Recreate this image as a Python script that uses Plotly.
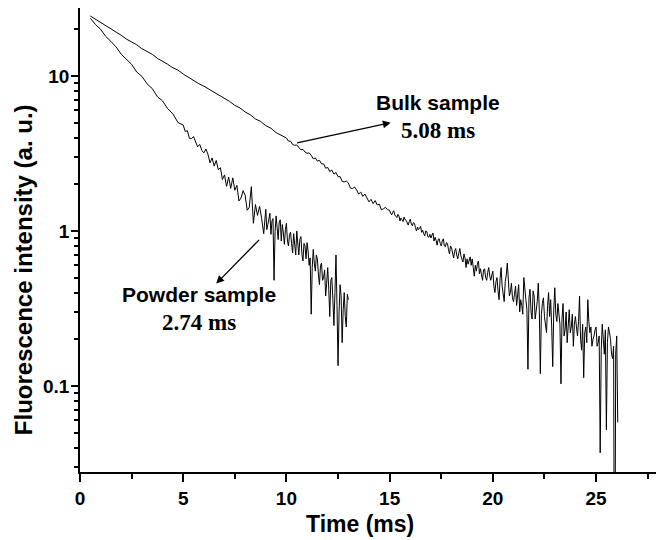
import numpy as np
import plotly.graph_objects as go

# ---- data (intensity, a.u.) ----
# Bulk sample: 0.5..9.75 ms every 0.25 ms; 10.0..14.9 ms every 0.1 ms; 15.0..26.05 ms every 0.05 ms
bulk_early = [24.4, 23.2, 22.2, 21.2, 20.0, 19.2, 18.3, 17.3, 16.6, 15.9,
              15.0, 14.4, 13.8, 13.0, 12.5, 11.9, 11.3, 10.9, 10.3, 9.80,
              9.42, 8.93, 8.60, 8.22, 7.76, 7.50, 7.10, 6.85, 6.46, 6.22,
              5.86, 5.62, 5.28, 5.09, 4.78, 4.60, 4.31, 4.14]
bulk_mid = [3.98, 3.80, 3.80, 3.61, 3.57, 3.59, 3.47, 3.34, 3.36, 3.23,
            3.17, 3.19, 3.08, 2.92, 2.96, 2.82, 2.86, 2.71, 2.71, 2.54,
            2.57, 2.42, 2.47, 2.33, 2.38, 2.24, 2.24, 2.09, 2.07, 2.10,
            2.04, 1.89, 1.88, 1.92, 1.84, 1.73, 1.78, 1.67, 1.73, 1.62,
            1.54, 1.60, 1.50, 1.57, 1.47, 1.49, 1.37, 1.39, 1.42, 1.37]
bulk_tail = [1.36, 1.30, 1.27, 1.32, 1.35, 1.27, 1.24, 1.22, 1.28, 1.25,
             1.16, 1.21, 1.18, 1.15, 1.23, 1.18, 1.17, 1.12, 1.09, 1.15,
             1.19, 1.11, 1.08, 1.13, 1.12, 1.05, 1.00, 1.06, 1.02, 1.04,
             1.07, 0.98, 1.01, 0.96, 0.93, 1.00, 0.99, 0.92, 0.91, 0.95,
             0.90, 0.94, 0.97, 0.86, 0.91, 0.87, 0.81, 0.88, 0.89, 0.83,
             0.80, 0.86, 0.89, 0.80, 0.79, 0.84, 0.83, 0.76, 0.71, 0.80,
             0.78, 0.72, 0.67, 0.74, 0.77, 0.70, 0.66, 0.72, 0.77, 0.69,
             0.66, 0.63, 0.71, 0.67, 0.58, 0.66, 0.61, 0.65, 0.68, 0.60,
             0.66, 0.58, 0.51, 0.60, 0.55, 0.61, 0.64, 0.53, 0.57, 0.52,
             0.48, 0.56, 0.57, 0.50, 0.48, 0.54, 0.58, 0.51, 0.48, 0.52,
             0.55, 0.44, 0.40, 0.47, 0.50, 0.41, 0.36, 0.49, 0.58, 0.44,
             0.40, 0.35, 0.47, 0.52, 0.62, 0.43, 0.38, 0.40, 0.46, 0.37,
             0.35, 0.39, 0.44, 0.33, 0.41, 0.45, 0.30, 0.36, 0.33, 0.29,
             0.50, 0.40, 0.36, 0.31, 0.128, 0.37, 0.42, 0.30, 0.27, 0.41,
             0.38, 0.27, 0.30, 0.35, 0.46, 0.31, 0.12, 0.29, 0.34, 0.37,
             0.28, 0.25, 0.22, 0.33, 0.40, 0.28, 0.36, 0.24, 0.133, 0.31,
             0.43, 0.29, 0.26, 0.34, 0.30, 0.25, 0.103, 0.27, 0.34, 0.21,
             0.23, 0.30, 0.19, 0.26, 0.31, 0.22, 0.24, 0.29, 0.18, 0.25,
             0.28, 0.24, 0.21, 0.26, 0.38, 0.20, 0.17, 0.25, 0.113, 0.22,
             0.24, 0.19, 0.36, 0.26, 0.22, 0.24, 0.18, 0.20, 0.21, 0.23,
             0.24, 0.18, 0.19, 0.21, 0.037, 0.17, 0.25, 0.20, 0.16, 0.23,
             0.052, 0.19, 0.24, 0.22, 0.20, 0.16, 0.15, 0.18, 0.001, 0.16,
             0.21, 0.058]

# Powder sample: 0.5..4.75 ms every 0.25 ms; 5.0..8.9 ms every 0.1 ms; 9.0..13.0 ms every 0.05 ms
powder_early = [23.6, 21.5, 20.0, 18.0, 16.7, 15.4, 13.8, 12.9, 11.9, 10.6,
                9.95, 8.90, 8.30, 7.35, 6.90, 6.15, 5.70, 5.00]
powder_mid = [4.83, 4.38, 4.44, 3.96, 3.95, 4.06, 3.81, 3.49, 3.62, 3.31,
              3.19, 3.38, 3.12, 2.75, 2.96, 2.62, 2.85, 2.48, 2.56, 2.15,
              2.30, 1.94, 2.23, 1.88, 2.20, 1.83, 1.97, 1.56, 1.63, 1.82,
              1.70, 1.36, 1.42, 1.93, 1.12, 1.48, 1.26, 1.44, 1.20, 0.96]
powder_tail = [1.38, 1.02, 1.10, 1.24, 1.30, 0.95, 1.16, 1.20, 0.48, 0.99,
               1.25, 1.05, 0.88, 1.14, 1.18, 0.86, 1.10, 0.97, 0.82, 1.02,
               1.12, 0.86, 0.80, 0.95, 0.98, 0.83, 0.72, 0.96, 0.78, 0.70,
               1.00, 0.82, 0.70, 0.88, 0.92, 0.71, 0.64, 0.83, 0.80, 0.66,
               0.84, 0.74, 0.60, 0.67, 0.29, 0.58, 0.76, 0.62, 0.55, 0.70,
               0.66, 0.52, 0.45, 0.60, 0.62, 0.48, 0.50, 0.56, 0.38, 0.46,
               0.58, 0.42, 0.28, 0.48, 0.50, 0.36, 0.245, 0.40, 0.70, 0.33,
               0.135, 0.30, 0.45, 0.38, 0.19, 0.31, 0.40, 0.28, 0.24, 0.39,
               0.36]

x_tick_step = 5
y_tick_vals = [0.1, 1, 10]
y_tick_text = ["0.1", "1", "10"]

bulk_t = np.round(np.concatenate([0.5 + 0.25 * np.arange(len(bulk_early)),
                                  10.0 + 0.1 * np.arange(len(bulk_mid)),
                                  15.0 + 0.05 * np.arange(len(bulk_tail))]), 3)
bulk_i = bulk_early + bulk_mid + bulk_tail
powder_t = np.round(np.concatenate([0.5 + 0.25 * np.arange(len(powder_early)),
                                    5.0 + 0.1 * np.arange(len(powder_mid)),
                                    9.0 + 0.05 * np.arange(len(powder_tail))]), 3)
powder_i = powder_early + powder_mid + powder_tail

SANS = "Liberation Sans, Arial, sans-serif"
SERIF = "Liberation Serif, Times New Roman, serif"

fig = go.Figure()
fig.add_trace(go.Scatter(x=bulk_t, y=bulk_i, mode="lines",
                         line=dict(color="black", width=1), name="Bulk sample"))
fig.add_trace(go.Scatter(x=powder_t, y=powder_i, mode="lines",
                         line=dict(color="black", width=1), name="Powder sample"))

minor_y = [k * 10.0 ** e for e in (-2, -1, 0, 1) for k in range(2, 10)]
minor_y = [v for v in minor_y if 0.028 <= v <= 27.4]

# page body has an 8px margin: figure is sized/margined so the plot area
# lands at x 80..658, y 8..472 of the 664x540 window
fig.update_layout(
    width=656, height=532,
    margin=dict(l=72, r=6, t=0, b=68),
    paper_bgcolor="white", plot_bgcolor="white",
    showlegend=False,
)
fig.update_xaxes(
    range=[0, 28], tick0=0, dtick=x_tick_step, automargin=False,
    ticks="outside", ticklen=8, tickwidth=1.5, tickcolor="black",
    showline=True, linewidth=1.5, linecolor="black",
    showgrid=False, zeroline=False,
    minor=dict(ticks="outside", ticklen=5, tickwidth=1.5, tickcolor="black",
               dtick=2.5, tick0=0, showgrid=False),
    tickfont=dict(family=SANS, size=19, color="black", weight="bold"),
)
fig.update_yaxes(
    type="log", range=[-1.556, 1.439], automargin=False,
    tickmode="array", tickvals=y_tick_vals, ticktext=y_tick_text,
    ticks="outside", ticklen=7, tickwidth=1.5, tickcolor="black",
    showline=True, linewidth=1.5, linecolor="black",
    showgrid=False, zeroline=False, ticklabelstandoff=-2,
    minor=dict(ticks="outside", ticklen=4, tickwidth=1.5, tickcolor="black",
               tickmode="array", tickvals=minor_y, showgrid=False),
    tickfont=dict(family=SANS, size=19, color="black", weight="bold"),
)

# Axis titles
fig.add_annotation(x=0.4844, y=-0.112, xref="paper", yref="paper",
                   text="Time (ms)", showarrow=False,
                   xanchor="center", yanchor="middle",
                   font=dict(family=SANS, size=23, color="black", weight="bold"))
fig.add_annotation(x=-0.0986, y=0.435, xref="paper", yref="paper",
                   text="Fluorescence intensity (a. u.)", showarrow=False,
                   textangle=-90, xanchor="center", yanchor="middle",
                   font=dict(family=SANS, size=24, color="black", weight="bold"))

# Labels
fig.add_annotation(x=17.35, y=0.829, xref="x", yref="y", text="Bulk sample",
                   showarrow=False, font=dict(family=SANS, size=21, color="black", weight="bold"))
fig.add_annotation(x=17.33, y=0.646, xref="x", yref="y", text="5.08 ms",
                   showarrow=False, font=dict(family=SERIF, size=23, color="black", weight="bold"))
fig.add_annotation(x=5.78, y=-0.409, xref="x", yref="y", text="Powder sample",
                   showarrow=False, font=dict(family=SANS, size=21, color="black", weight="bold"))
fig.add_annotation(x=5.78, y=-0.593, xref="x", yref="y", text="2.74 ms",
                   showarrow=False, font=dict(family=SERIF, size=23, color="black", weight="bold"))

# Arrows
fig.add_annotation(x=15.05, y=0.698, ax=10.44, ay=0.567, xref="x", yref="y",
                   axref="x", ayref="y", text="", showarrow=True,
                   arrowhead=2, arrowsize=1.2, arrowwidth=1.3, arrowcolor="black")
fig.add_annotation(x=6.60, y=-0.340, ax=8.74, ay=-0.049, xref="x", yref="y",
                   axref="x", ayref="y", text="", showarrow=True,
                   arrowhead=2, arrowsize=1.2, arrowwidth=1.3, arrowcolor="black")

fig.write_html("out.html")
